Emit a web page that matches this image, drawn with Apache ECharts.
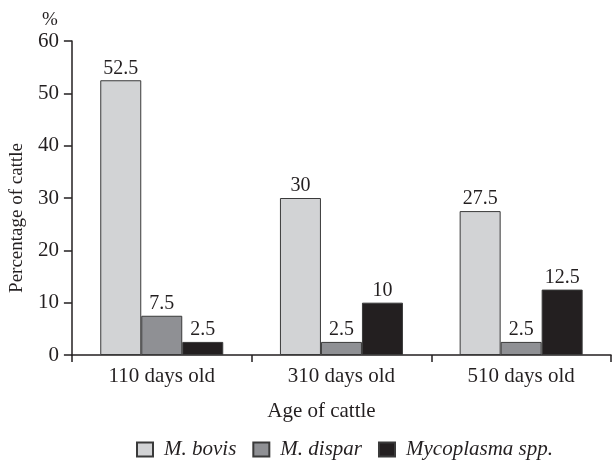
<!DOCTYPE html>
<html><head><meta charset="utf-8">
<script src="https://cdn.jsdelivr.net/npm/echarts@6/dist/echarts.min.js"></script>
<style>html,body{margin:0;padding:0;background:#fff}#c{width:615px;height:460px}</style>
</head><body><div id="c"></div>
<script>
const categories = ['110 days old', '310 days old', '510 days old'];
const seriesNames = ['M. bovis', 'M. dispar', 'Mycoplasma spp.'];
const bovis = [52.5, 30, 27.5];
const dispar = [7.5, 2.5, 2.5];
const spp = [2.5, 10, 12.5];
const yTicks = [0, 10, 20, 30, 40, 50, 60];

const font = '"Liberation Serif", "DejaVu Serif", serif';
const ink = '#231f20';
const colors = ['#d2d3d5', '#8f9094', '#231f20'];
const values = [bovis, dispar, spp];

const chart = echarts.init(document.getElementById('c'), null, {renderer: 'canvas'});
chart.setOption({
  animation: false,
  backgroundColor: '#fff',
  textStyle: {fontFamily: font, color: ink},
  grid: {left: 71, right: 4, top: 41, bottom: 105, containLabel: false},
  legend: {
    left: 131, top: 434,
    itemWidth: 16, itemHeight: 14, itemGap: 16,
    textStyle: {fontFamily: font, fontSize: 21, fontStyle: 'italic', color: ink, padding: [0, 0, 0, 6]},
    data: seriesNames,
    icon: 'rect'
  },
  xAxis: {
    type: 'category',
    data: categories,
    name: 'Age of cattle',
    nameLocation: 'middle',
    nameGap: 46,
    nameTextStyle: {fontFamily: font, fontSize: 21, color: ink, padding: [0, 40, 0, 0]},
    axisLine: {lineStyle: {color: ink, width: 1.5}},
    axisTick: {show: true, length: 7, lineStyle: {color: ink, width: 1.5}},
    axisLabel: {fontFamily: font, fontSize: 21, color: ink, margin: 11}
  },
  yAxis: {
    type: 'value',
    min: yTicks[0], max: yTicks[yTicks.length - 1], interval: 10,
    name: 'Percentage of cattle',
    nameLocation: 'middle',
    nameGap: 43,
    nameTextStyle: {fontFamily: font, fontSize: 19, color: ink, padding: [0, 40, 0, 0]},
    axisLine: {show: true, lineStyle: {color: ink, width: 1.5}},
    axisTick: {show: true, length: 8, lineStyle: {color: ink, width: 1.5}},
    axisLabel: {fontFamily: font, fontSize: 21, color: ink, margin: 13},
    splitLine: {show: false}
  },
  graphic: [{
    type: 'text', left: 42, top: 11,
    style: {text: '%', font: '19px ' + font, fill: ink}
  }],
  series: seriesNames.map((n, i) => ({
    name: n,
    type: 'bar',
    data: values[i],
    barWidth: 41,
    barGap: '0%',
    itemStyle: {color: colors[i], borderColor: '#3a3a3a', borderWidth: 1},
    label: {show: true, position: 'top', distance: 2, fontFamily: font, fontSize: 20, color: ink}
  }))
});
</script></body></html>
